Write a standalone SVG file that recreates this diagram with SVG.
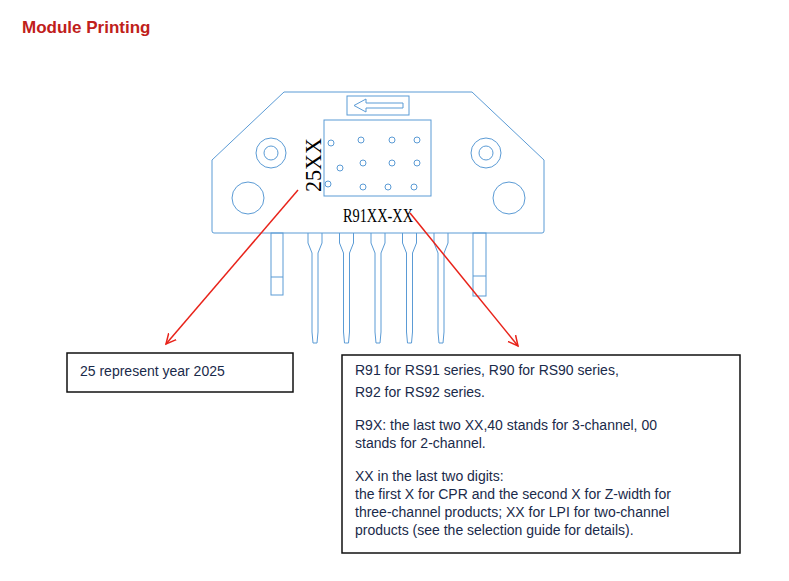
<svg xmlns="http://www.w3.org/2000/svg" width="789" height="581" viewBox="0 0 789 581">
<defs>
<style>
.o{fill:none;stroke:#5b9bd5;stroke-width:1}
.r{stroke:#e8231a;stroke-width:1.5;fill:none}
.box{fill:#fff;stroke:#111;stroke-width:1.5}
.t{font-family:"Liberation Sans",Arial,sans-serif;font-size:14px;fill:#1a2a4a}
.s{font-family:"Liberation Serif","Times New Roman",serif;fill:#000}
</style>
<marker id="ah" markerWidth="12" markerHeight="12" refX="10" refY="6" orient="auto" markerUnits="userSpaceOnUse">
<path d="M0,1 L10,6 L0,11" fill="none" stroke="#e8231a" stroke-width="1.5"/>
</marker>
<path id="pin" d="M-7,0 V10 L-3,20 V99 L-2,110 L-1,110 L2,110 L3,99 V20 L7,10 V0" class="o"/>
</defs>
<rect width="789" height="581" fill="#fff"/>
<text x="22" y="33" font-family="Liberation Sans,Arial,sans-serif" font-weight="bold" font-size="17" fill="#c0201a">Module Printing</text>
<g id="module">
<path class="o" d="M284,92 H472 L544,160 V231 Q544,233 542,233 H214 Q212,233 212,231 V160 Z"/>
<rect class="o" x="347" y="96" width="62" height="19"/>
<path class="o" d="M354,105.5 L366,99 V103 H403 V108 H366 V112 Z"/>
<rect class="o" x="324" y="120" width="107" height="76"/>
<g class="o">
<circle cx="331" cy="143" r="3"/><circle cx="361" cy="140" r="3"/><circle cx="392" cy="140" r="3"/><circle cx="417" cy="140" r="3"/>
<circle cx="340" cy="168" r="3"/><circle cx="363" cy="163" r="3"/><circle cx="392" cy="163" r="3"/><circle cx="417" cy="163" r="3"/>
<circle cx="328" cy="184" r="3"/><circle cx="363" cy="187" r="3"/><circle cx="388" cy="187" r="3"/><circle cx="414" cy="187" r="3"/>
<circle cx="271" cy="153" r="15"/><circle cx="271" cy="153" r="7"/>
<circle cx="486" cy="153" r="15"/><circle cx="486" cy="153" r="7"/>
<circle cx="248" cy="198" r="16"/><circle cx="509" cy="198" r="16"/>
</g>
<rect class="o" x="271" y="233" width="12" height="62"/><line class="o" x1="271" y1="277" x2="283" y2="277"/>
<rect class="o" x="473" y="233" width="13" height="63"/><line class="o" x1="473" y1="276" x2="486" y2="276"/>
<use href="#pin" x="315" y="233"/><use href="#pin" x="346.5" y="233"/><use href="#pin" x="378" y="233"/><use href="#pin" x="409.5" y="233"/><use href="#pin" x="441" y="233"/>
<text class="s" font-size="24" transform="translate(321,192) rotate(-90)" textLength="54" lengthAdjust="spacingAndGlyphs">25XX</text>
<text class="s" font-size="19" x="343" y="222" textLength="70" lengthAdjust="spacingAndGlyphs">R91XX-XX</text>
</g>
<g id="connectors">
<line class="r" x1="298" y1="190" x2="166" y2="344" marker-end="url(#ah)"/>
<line class="r" x1="410" y1="213" x2="518" y2="346" marker-end="url(#ah)"/>
</g>
<g id="year">
<rect class="box" x="67" y="353" width="226" height="39"/>
<text class="t" x="80" y="376">25 represent year 2025</text>
</g>
<g id="desc">
<rect class="box" x="342" y="355" width="398" height="198"/>
<text class="t" x="355" y="375">R91 for RS91 series, R90 for RS90 series,</text>
<text class="t" x="355" y="397">R92 for RS92 series.</text>
<text class="t" x="355" y="430">R9X: the last two XX,40 stands for 3-channel, 00</text>
<text class="t" x="355" y="448">stands for 2-channel.</text>
<text class="t" x="355" y="481">XX in the last two digits:</text>
<text class="t" x="355" y="499">the first X for CPR and the second X for Z-width for</text>
<text class="t" x="355" y="517">three-channel products; XX for LPI for two-channel</text>
<text class="t" x="355" y="535">products (see the selection guide for details).</text>
</g>
</svg>
